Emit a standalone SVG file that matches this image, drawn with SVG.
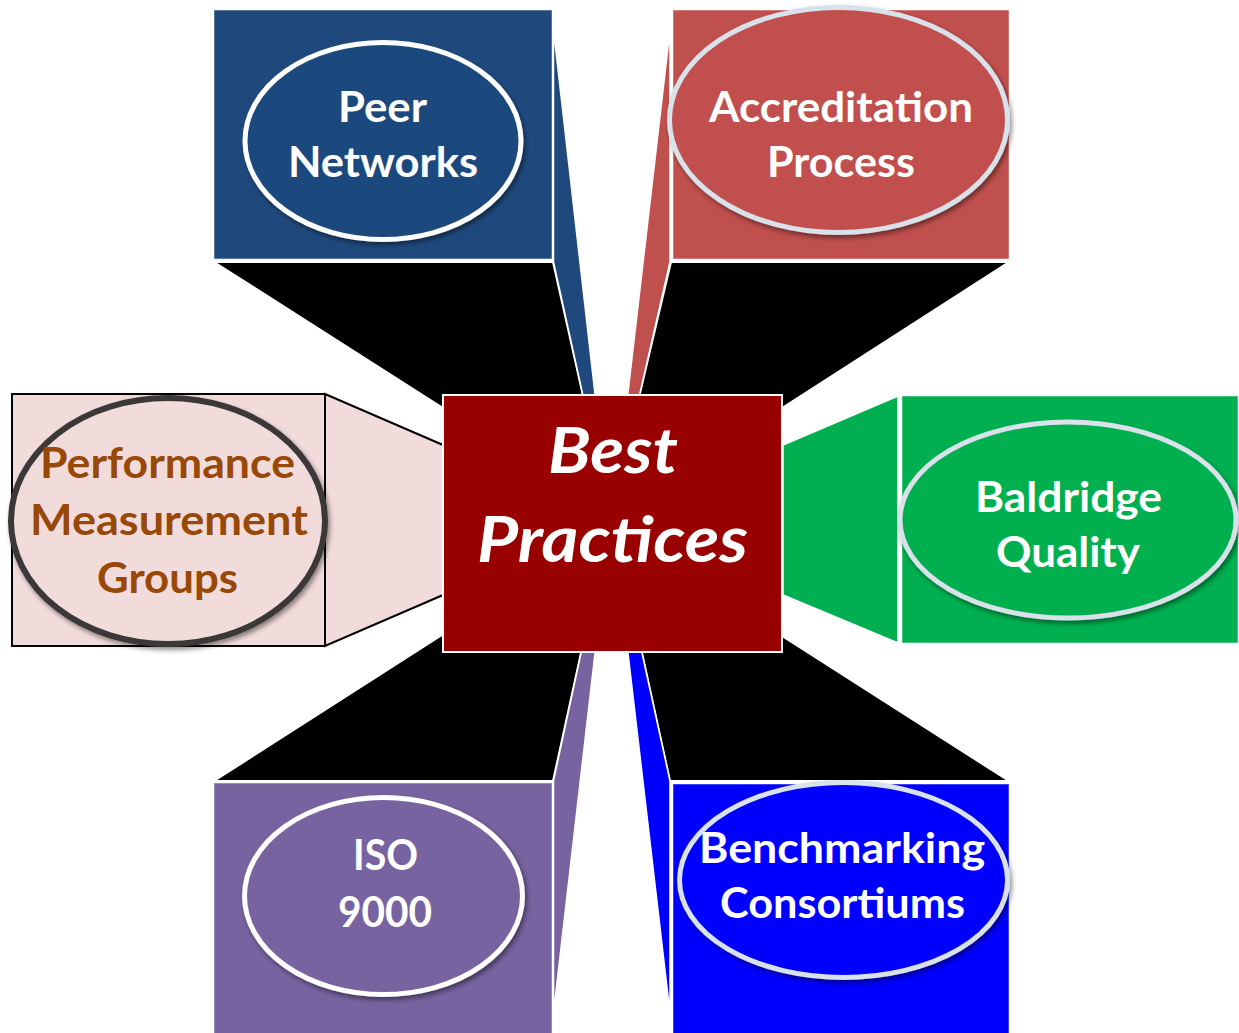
<svg xmlns="http://www.w3.org/2000/svg" width="1239" height="1033" viewBox="0 0 1239 1033">
<defs>
<style>
.lbl{font-family:Lato,"Open Sans","Liberation Sans",sans-serif;font-weight:700;font-size:42px;fill:#fff;text-anchor:middle}
.ctr{font-family:Lato,"Open Sans","Liberation Sans",sans-serif;font-weight:700;font-style:italic;font-size:64px;fill:#fff;text-anchor:middle}
.face{stroke:#fff;stroke-width:1.5;stroke-linejoin:miter}
.blk{fill:#000;stroke:#fff;stroke-width:2}
.box{stroke:#fff;stroke-opacity:0.5;stroke-width:1}
.ell{stroke-width:5;filter:url(#sh)}
</style>
<filter id="sh" x="-10%" y="-10%" width="125%" height="130%">
<feDropShadow dx="2" dy="3" stdDeviation="2.5" flood-color="#000" flood-opacity="0.45"/>
</filter>
</defs>
<rect width="1239" height="1033" fill="#fff"/>
<g id="connectors">
<polygon class="blk" points="214,262 553,262 584,400 443,408"/>
<polygon class="blk" points="671,262 1009,262 782,408 638.4,400"/>
<polygon class="blk" points="214,781 442,635 584.7,636 553,781"/>
<polygon class="blk" points="670,781 639.4,641 782,636 1009,781"/>
<polygon class="face" fill="#1f497d" points="553.5,30 595.3,397 583.3,397 553.5,262"/>
<polygon class="face" fill="#c0504d" points="670,30 627.5,397 639.1,397 670,262"/>
<polygon class="face" fill="#7763a0" points="582.1,648 595.6,648 553.5,1013 553.5,781"/>
<polygon class="face" fill="#0000ff" points="627.4,648 640.9,648 670,781 670,1013"/>
<polygon fill="#f2dcdb" stroke="#000" stroke-width="2" points="325,394 443,445 443,595 325,646"/>
<polygon class="face" fill="#00b050" points="898,396 783,445 783,595 898,643"/>
</g>
<g id="peer-networks">
<rect class="box" x="214" y="10" width="338" height="249" fill="#1f497d"/>
<ellipse class="ell" cx="383" cy="141" rx="138" ry="98.5" fill="#1f497d" stroke="#fff"/>
<text class="lbl" x="382.5" y="122" textLength="89" lengthAdjust="spacingAndGlyphs">Peer</text>
<text class="lbl" x="383" y="177" textLength="190" lengthAdjust="spacingAndGlyphs">Networks</text>
</g>
<g id="accreditation-process">
<rect class="box" x="673" y="10" width="336" height="249" fill="#c0504d"/>
<ellipse class="ell" cx="838.5" cy="120" rx="169" ry="112.5" fill="#c0504d" stroke="#d9e1ea" stroke-width="5.5"/>
<text class="lbl" x="841" y="122" textLength="264" lengthAdjust="spacingAndGlyphs">Accreditation</text>
<text class="lbl" x="841" y="177" textLength="148" lengthAdjust="spacingAndGlyphs">Process</text>
</g>
<g id="performance-measurement-groups">
<rect x="12" y="394" width="313" height="252" fill="#f2dcdb" stroke="#000" stroke-width="2"/>
<ellipse class="ell" cx="168" cy="521" rx="157" ry="123" fill="#f2dcdb" stroke="#3b3737" style="stroke-width:6"/>
<text class="lbl" x="167.5" y="478" textLength="255" lengthAdjust="spacingAndGlyphs" style="fill:#984807">Performance</text>
<text class="lbl" x="169" y="535" textLength="278" lengthAdjust="spacingAndGlyphs" style="fill:#984807">Measurement</text>
<text class="lbl" x="167.5" y="593" textLength="141" lengthAdjust="spacingAndGlyphs" style="fill:#984807">Groups</text>
</g>
<g id="baldridge-quality">
<rect class="box" x="902" y="396" width="336" height="247" fill="#00b050"/>
<ellipse class="ell" cx="1068" cy="520" rx="168" ry="98" fill="#00b050" stroke="#d9e1ea"/>
<text class="lbl" x="1068.5" y="512" textLength="187" lengthAdjust="spacingAndGlyphs">Baldridge</text>
<text class="lbl" x="1068" y="567" textLength="144" lengthAdjust="spacingAndGlyphs">Quality</text>
</g>
<g id="iso-9000">
<rect class="box" x="214" y="783" width="338" height="251" fill="#7763a0"/>
<ellipse class="ell" cx="383.5" cy="896" rx="139" ry="98.5" fill="#7763a0" stroke="#fff"/>
<text class="lbl" x="385.5" y="870" textLength="65" lengthAdjust="spacingAndGlyphs">ISO</text>
<text class="lbl" x="385" y="927" textLength="94" lengthAdjust="spacingAndGlyphs">9000</text>
</g>
<g id="benchmarking-consortiums">
<rect class="box" x="673" y="784" width="336" height="250" fill="#0000ff"/>
<ellipse class="ell" cx="843.5" cy="880" rx="164" ry="97.5" fill="#0000ff" stroke="#d9e1ea"/>
<text class="lbl" x="842" y="863" textLength="286" lengthAdjust="spacingAndGlyphs">Benchmarking</text>
<text class="lbl" x="842.5" y="918" textLength="245" lengthAdjust="spacingAndGlyphs">Consortiums</text>
</g>
<g id="best-practices">
<rect x="443" y="395" width="339" height="257" fill="#990000" stroke="#fff" stroke-width="2"/>
<text class="ctr" x="613" y="473" textLength="130" lengthAdjust="spacingAndGlyphs">Best</text>
<text class="ctr" x="612.5" y="562" textLength="271" lengthAdjust="spacingAndGlyphs">Practices</text>
</g>
</svg>
